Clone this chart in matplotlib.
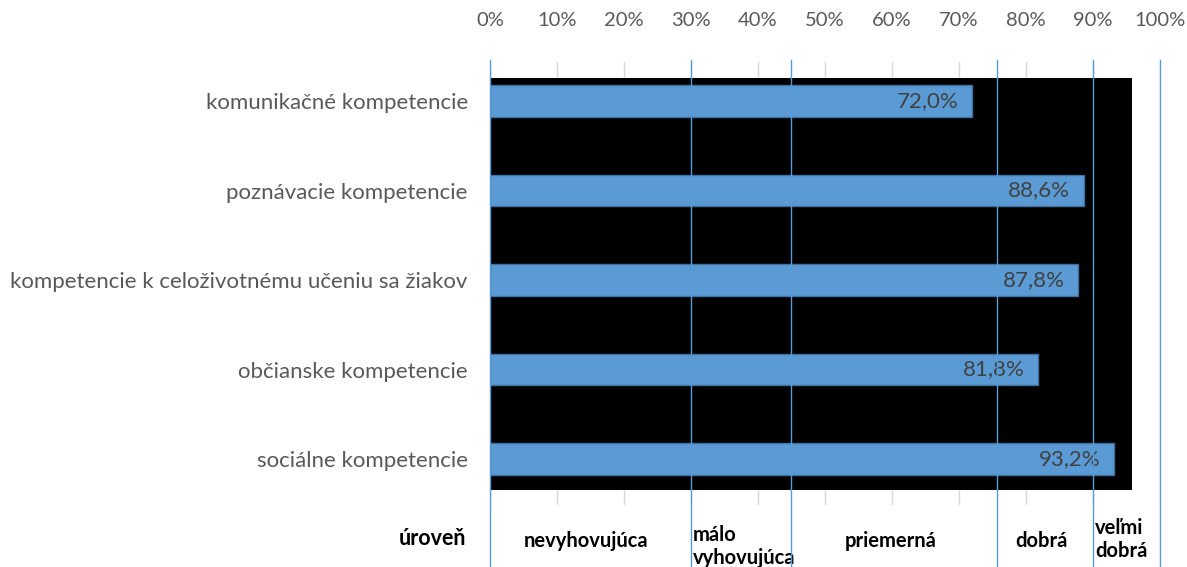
"""Key competences of pupils - horizontal bar chart with level bands."""

import matplotlib.pyplot as plt
import matplotlib.transforms as mtransforms
from matplotlib.patches import Rectangle

plt.rcParams["font.family"] = ["Lato", "DejaVu Sans"]

competences = [
    "komunikačné kompetencie",
    "poznávacie kompetencie",
    "kompetencie k celoživotnému učeniu sa žiakov",
    "občianske kompetencie",
    "sociálne kompetencie",
]
values = [72.0, 88.6, 87.8, 81.8, 93.2]

level_names = ["nevyhovujúca", "málo\nvyhovujúca", "priemerná", "dobrá", "veľmi\ndobrá"]
level_bounds = [0, 30, 45, 75.7, 90, 100]
level_label = "úroveň"
x_ticks = list(range(0, 101, 10))

BLUE = "#5B9BD5"
EDGE = "#41719C"
GRID = "#D9D9D9"
TEXT = "#595959"

fig = plt.figure(figsize=(11.87, 5.67), dpi=100)
ax = fig.add_axes([0.4128, 0.1093, 0.5644, 0.7814])

pos = list(range(len(competences)))
ax.set_xlim(0, 100)
ax.set_ylim(4.514, -0.436)

# black plot-area background (does not fill the whole axes)
ax.add_patch(Rectangle((0, -0.257), 95.8, 4.603, facecolor="black",
                       edgecolor="none", zorder=1))

ax.barh(pos, values, height=0.35, color=BLUE, edgecolor=EDGE,
        linewidth=1, zorder=3)
for y, v in zip(pos, values):
    ax.text(v - 2.0, y, f"{v:.1f}%".replace(".", ","), ha="right",
            va="center", fontsize=16, color="#404040", zorder=4)

ax.set_xticks(x_ticks)
ax.set_xticklabels([f"{t}%" for t in x_ticks])
ax.xaxis.tick_top()
ax.tick_params(axis="x", length=0, pad=24, labelsize=14.5, labelcolor=TEXT)
ax.set_yticks(pos)
ax.set_yticklabels(competences)
ax.tick_params(axis="y", length=0, pad=16, labelsize=16, labelcolor=TEXT)
ax.grid(axis="x", color=GRID, linewidth=1, zorder=0)
ax.set_axisbelow(True)
for s in ax.spines.values():
    s.set_visible(False)

# level boundaries running down to the bottom edge
for b in level_bounds:
    ax.axvline(b, ymin=-0.14, ymax=1.005, color=BLUE, linewidth=1,
               clip_on=False, zorder=5)

trans = mtransforms.blended_transform_factory(ax.transData, fig.transFigure)
for i, name in enumerate(level_names):
    lo, hi = level_bounds[i], level_bounds[i + 1]
    if "\n" in name:
        y_txt = 0.036 if lo == 30 else 0.048
        ax.text(lo + 0.3, y_txt, name, transform=trans, ha="left",
                va="center", fontsize=14.5, fontweight="bold",
                linespacing=1.2)
    else:
        ax.text((lo + hi) / 2 - 0.6, 0.046, name, transform=trans,
                ha="center", va="center", fontsize=14.5, fontweight="bold")

fig.text(466 / 1187, 0.05, level_label, ha="right", va="center",
         fontsize=15.5, fontweight="bold")

fig.savefig("out.png", dpi=100)
